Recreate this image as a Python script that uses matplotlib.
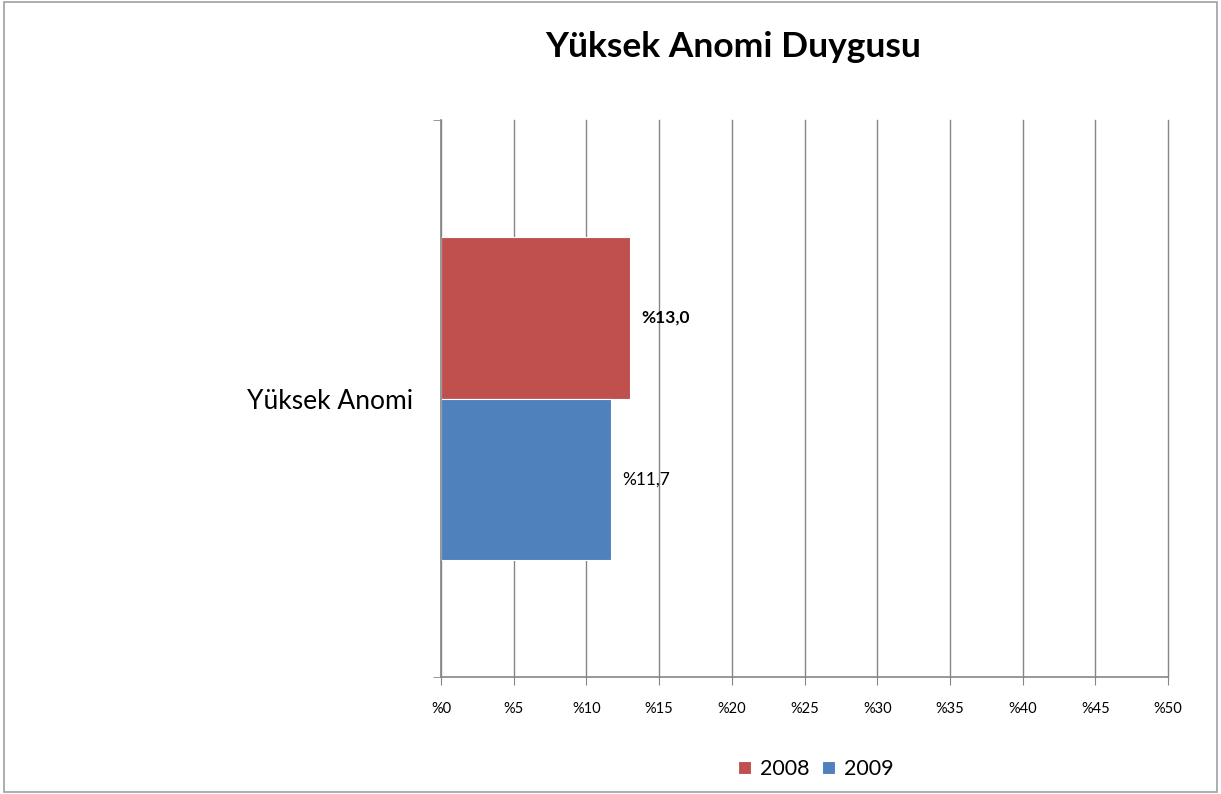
import matplotlib.pyplot as plt
from matplotlib.patches import Rectangle

plt.rcParams['font.family'] = ['Lato', 'DejaVu Sans']

category = 'Yüksek Anomi'
years = ['2008', '2009']
values = [13.0, 11.7]
value_labels = ['%13,0', '%11,7']
colors = ['#C0504D', '#4F81BD']
xticks = [0, 5, 10, 15, 20, 25, 30, 35, 40, 45, 50]

fig = plt.figure(figsize=(12.21, 7.94), dpi=100)
ax = fig.add_axes([441 / 1221, 1 - 677 / 794, (1168 - 441) / 1221, (677 - 120) / 794])

# bars: 2008 on top, 2009 below
h = 0.29
ypos = [h / 2, -h / 2]
for y, v, c, yr in zip(ypos, values, colors, years):
    ax.barh(y, v, height=h, color=c, edgecolor='white', linewidth=0.8, label=yr, zorder=2)

ax.text(values[0] + 0.75, ypos[0], value_labels[0], va='center', ha='left',
        fontsize=12.5, fontweight='bold', zorder=3)
ax.text(values[1] + 0.75, ypos[1], value_labels[1], va='center', ha='left',
        fontsize=12.5, zorder=3)

ax.set_xlim(0, 50)
ax.set_ylim(-0.5, 0.5)
ax.set_xticks(xticks)
ax.set_xticklabels(['%' + str(t) for t in xticks], fontsize=10.5)
ax.set_yticks([0])
ax.set_yticklabels([category], fontsize=19)
ax.tick_params(axis='y', length=0, pad=20)
ax.tick_params(axis='x', length=6, color='#868686', pad=12)

# small ticks on the category axis edges
ax.set_yticks([-0.5, 0.5], minor=True)
ax.tick_params(axis='y', which='minor', length=6, color='#868686')

ax.set_axisbelow(True)
ax.grid(axis='x', color='#868686', linewidth=1)
for gl in ax.get_xgridlines():
    gl.set_clip_on(False)
for s in ['top', 'right']:
    ax.spines[s].set_visible(False)
for s in ['left', 'bottom']:
    ax.spines[s].set_color('#868686')
    ax.spines[s].set_linewidth(1.2)

fig.text(733 / 1221, 1 - 47 / 794, 'Yüksek Anomi Duygusu', ha='center', va='center',
         fontsize=25.5, fontweight='bold')

fig.legend(loc='center', bbox_to_anchor=(816 / 1221, 1 - 769 / 794), ncol=2, frameon=False,
           fontsize=15.5, handlelength=0.6, handleheight=0.6, handletextpad=0.4, columnspacing=0.6)

fig.patches.append(Rectangle((0.003, 0.002), 0.994, 0.996, transform=fig.transFigure,
                             fill=False, edgecolor='#A0A0A0', linewidth=1.2))

fig.savefig('out.png', dpi=100)
